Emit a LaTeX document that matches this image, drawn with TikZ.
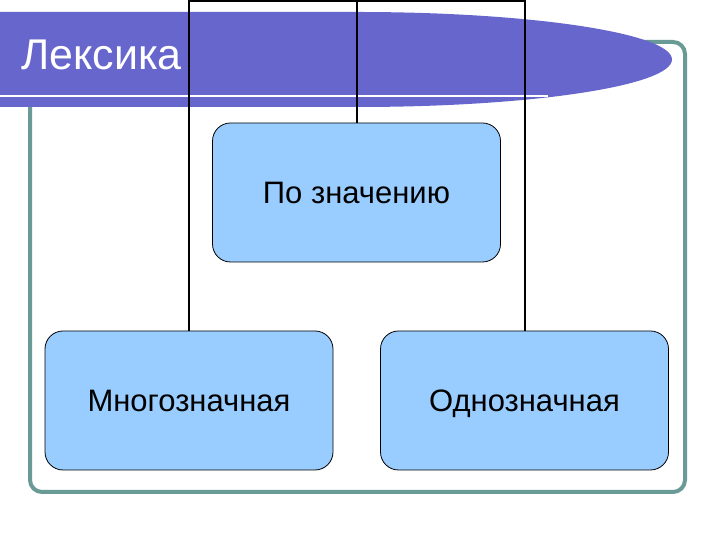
\documentclass[tikz,border=0pt]{standalone}
\usepackage{fontspec}
\setmainfont{Liberation Sans}
\usepackage{tikz}

\definecolor{bannerblue}{RGB}{102,102,204}
\definecolor{boxblue}{RGB}{153,204,255}
\definecolor{frameteal}{RGB}{106,154,150}

\begin{document}
\begin{tikzpicture}[x=1pt,y=1pt,
		every node/.style={inner sep=0pt},
		box/.style={draw=black, line width=0.8pt, fill=boxblue, rounded corners=18pt,
			minimum width=288pt, minimum height=139pt, text height=22pt, text depth=0pt,
			font=\fontsize{31}{35}\selectfont},
		link/.style={draw=black, line width=2pt}]
			\useasboundingbox (0,0) rectangle (720,540);
			\draw [frameteal, line width=4pt, rounded corners=12pt] (30,48) rectangle (685,498);
			\fill [bannerblue] (0,528) -- (358,528) arc[start angle=90, end angle=-90, x radius=314pt, y radius=47.5pt] -- (0,433) -- cycle;
			\draw [white, line width=2pt] (0,443.5) -- (548,443.5);
			\node [anchor=base west, text=white, font=\fontsize{43}{48}\selectfont] (title) at (21,470) {Лексика};
			\node [box] (meaning) at (356.5,347.5) {По значению};
			\node [box] (poly) at (189,139.5) {Многозначная};
			\node [box] (mono) at (524.5,139.5) {Однозначная};
			\coordinate (bus) at (meaning.north |- 0,539);
			\draw [link] (meaning.north) -- (bus) -| (poly.north);
			\draw [link] (bus) -| (mono.north);
		\end{tikzpicture}
\end{document}
